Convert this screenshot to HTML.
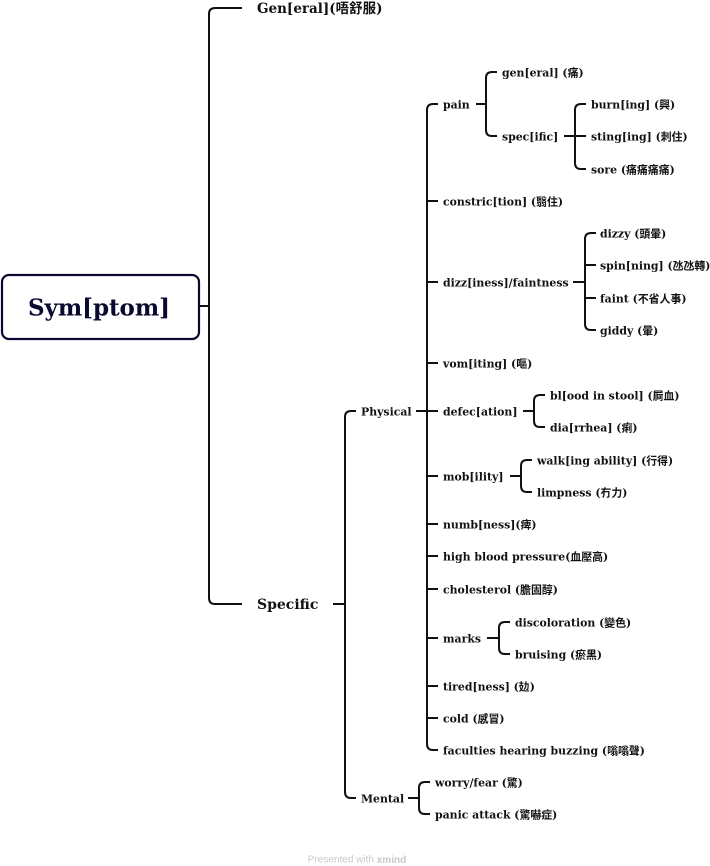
<!DOCTYPE html>
<html><head><meta charset="utf-8"><style>
html,body{margin:0;padding:0;background:#fff;width:710px;height:866px;overflow:hidden}
svg text{font-family:"DejaVu Serif","Noto Sans CJK TC","WenQuanYi Zen Hei",serif;font-weight:bold;fill:#111;dominant-baseline:central}
.s{font-size:10.9px}
</style></head><body>
<svg width="710" height="866" viewBox="0 0 710 866" xmlns="http://www.w3.org/2000/svg">
<g fill="none" stroke="#111" stroke-width="2">
<rect x="2" y="275" width="197" height="64" rx="7" stroke="#0a0a30" stroke-width="2.2"/>
<path d="M199 306H209"/>
<path d="M242 8H215Q209 8 209 14V598Q209 604 215 604H242"/>
<path d="M333 604H345"/>
<path d="M356 411H351Q345 411 345 417V792Q345 798 351 798H356"/>
<path d="M416 411H427"/>
<path d="M438 104H433Q427 104 427 110V744Q427 750 433 750H438"/>
<path d="M427 201H438M427 282H438M427 363H438M427 411H438M427 476H438M427 524H438M427 556H438M427 589H438M427 638H438M427 686H438M427 718H438"/>
<path d="M476 104H486"/>
<path d="M497 72H492Q486 72 486 78V130Q486 136 492 136H497"/>
<path d="M564 136H575"/>
<path d="M586 104H581Q575 104 575 110V163Q575 169 581 169H586M575 136H586"/>
<path d="M573 282H585"/>
<path d="M596 233H591Q585 233 585 239V324Q585 330 591 330H596M585 265H596M585 298H596"/>
<path d="M523 411H534"/>
<path d="M545 395H540Q534 395 534 401V421Q534 427 540 427H545"/>
<path d="M510 476H521"/>
<path d="M532 460H527Q521 460 521 466V486Q521 492 527 492H532"/>
<path d="M487 638H499"/>
<path d="M510 622H505Q499 622 499 628V648Q499 654 505 654H510"/>
<path d="M408 798H419"/>
<path d="M430 782H425Q419 782 419 788V808Q419 814 425 814H430"/>
</g>
<text x="99" y="308" text-anchor="middle" textLength="142" style="font-size:23px;fill:#0a0a30">Sym[ptom]</text>
<text x="257" y="9" style="font-size:13.5px">Gen[eral](唔舒服)</text>
<text x="257" y="605" style="font-size:14px">Specific</text>
<text class="s" x="361" y="412">Physical</text>
<text class="s" x="361" y="799">Mental</text>
<text class="s" x="443" y="105">pain</text>
<text class="s" x="443" y="202">constric[tion] (翳住)</text>
<text class="s" x="443" y="283">dizz[iness]/faintness</text>
<text class="s" x="443" y="364">vom[iting] (嘔)</text>
<text class="s" x="443" y="412">defec[ation]</text>
<text class="s" x="443" y="477">mob[ility]</text>
<text class="s" x="443" y="525">numb[ness](痺)</text>
<text class="s" x="443" y="557">high blood pressure(血壓高)</text>
<text class="s" x="443" y="590">cholesterol (膽固醇)</text>
<text class="s" x="443" y="639">marks</text>
<text class="s" x="443" y="687">tired[ness] (攰)</text>
<text class="s" x="443" y="719">cold (感冒)</text>
<text class="s" x="443" y="751">faculties hearing buzzing (嗡嗡聲)</text>
<text class="s" x="502" y="73">gen[eral] (痛)</text>
<text class="s" x="502" y="137">spec[ific]</text>
<text class="s" x="591" y="105">burn[ing] (興)</text>
<text class="s" x="591" y="137">sting[ing] (刺住)</text>
<text class="s" x="591" y="170">sore (痛痛痛痛)</text>
<text class="s" x="600" y="234">dizzy (頭暈)</text>
<text class="s" x="600" y="266">spin[ning] (氹氹轉)</text>
<text class="s" x="600" y="299">faint (不省人事)</text>
<text class="s" x="600" y="331">giddy (暈)</text>
<text class="s" x="550" y="396">bl[ood in stool] (屙血)</text>
<text class="s" x="550" y="428">dia[rrhea] (痢)</text>
<text class="s" x="537" y="461">walk[ing ability] (行得)</text>
<text class="s" x="537" y="493">limpness (冇力)</text>
<text class="s" x="515" y="623">discoloration (變色)</text>
<text class="s" x="515" y="655">bruising (瘀黑)</text>
<text class="s" x="435" y="783">worry/fear (驚)</text>
<text class="s" x="435" y="815">panic attack (驚嚇症)</text>
<text x="357" y="860" text-anchor="middle" style="font-family:'Liberation Sans',sans-serif;font-weight:normal;font-size:10px;fill:#c8c8c8">Presented with <tspan style="font-weight:bold">xmind</tspan></text>
</svg>
</body></html>
